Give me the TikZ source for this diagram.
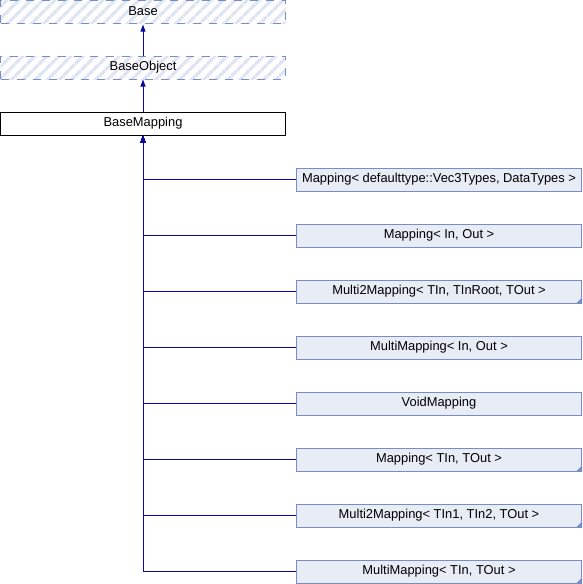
\documentclass[tikz,border=0pt]{standalone}
\usepackage{fontspec}
\setmainfont{Liberation Sans}
\usetikzlibrary{arrows.meta,patterns.meta}
\definecolor{edgeblue}{RGB}{10,10,160}
\definecolor{boxfill}{RGB}{232,236,245}
\definecolor{boxline}{RGB}{120,140,200}
\definecolor{hatch}{RGB}{222,228,242}
\tikzset{
  cls/.style={draw, minimum width=285, minimum height=23, inner sep=0pt,
    font=\fontsize{12.9}{14}\selectfont, text=black, line width=1pt},
  hatched/.style={cls, draw=boxline, dash pattern=on 8pt off 8pt,
    pattern={Lines[angle=45,distance=8.5pt,line width=3.2pt]}, pattern color=hatch},
  current/.style={cls, draw=black, fill=white},
  derived/.style={cls, draw=boxline, fill=boxfill},
  inherit/.style={draw=edgeblue, line width=1pt,
    -{Triangle[length=7pt,width=5pt]}},
  cornermark/.style={fill=boxline, draw=none}
}
\newcommand{\foldmark}[1]{%
  \fill[cornermark] (#1.south east) -- ++(-6,0) -- ++(6,-6) -- cycle;}
\begin{document}
\begin{tikzpicture}[x=1pt,y=-1pt]
  \useasboundingbox (0,0) rectangle (582,584);
  % ancestors
  \node[hatched] (base) at (143,11.5) {Base};
  \node[hatched] (baseobject) at (143,67.5) {BaseObject};
  \node[current] (basemapping) at (143,123.5) {BaseMapping};
  \draw[inherit] (baseobject) -- (base);
  \draw[inherit] (basemapping) -- (baseobject);
  % derived classes
  \node[derived] (m1) at (439,179.5) {Mapping< defaulttype::Vec3Types, DataTypes >};
  \node[derived] (m2) at (439,235.5) {Mapping< In, Out >};
  \node[derived] (m3) at (439,291.5) {Multi2Mapping< TIn, TInRoot, TOut >};
  \node[derived] (m4) at (439,347.5) {MultiMapping< In, Out >};
  \node[derived] (m5) at (439,403.5) {VoidMapping};
  \node[derived] (m6) at (439,459.5) {Mapping< TIn, TOut >};
  \node[derived] (m7) at (439,515.5) {Multi2Mapping< TIn1, TIn2, TOut >};
  \node[derived] (m8) at (439,571.5) {MultiMapping< TIn, TOut >};
  \foldmark{m3}
  \foldmark{m6}
  \foldmark{m7}
  \foldmark{m8}
  % inheritance edges
  \foreach \c in {m1,m2,m3,m4,m5,m6,m7,m8}
    \draw[inherit] (\c.west) -| (basemapping.south);
\end{tikzpicture}
\end{document}
